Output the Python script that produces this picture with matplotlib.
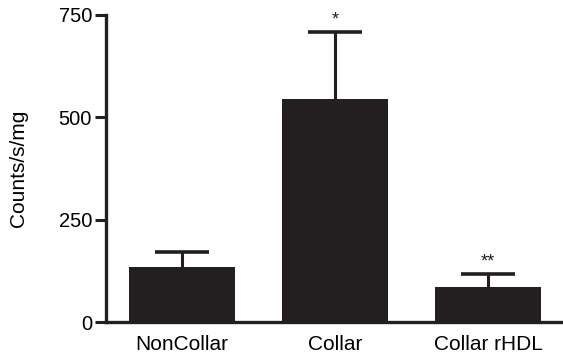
import matplotlib
matplotlib.use("Agg")
import matplotlib.pyplot as plt

categories = ["NonCollar", "Collar", "Collar rHDL"]
means = [135, 544, 86]
errors_upper = [37, 164, 31]
annotations = ["", "*", "**"]
yticks = [0, 250, 500, 750]

plt.rcParams['font.family'] = ['Liberation Sans', 'DejaVu Sans']
col = '#231f20'

fig = plt.figure(figsize=(5.63, 3.57), dpi=100)
ax = fig.add_axes([0.188, 0.098, 0.812, 0.86])
x = list(range(len(categories)))
ax.bar(x, means, width=0.69, color=col, zorder=2)
eb = ax.errorbar(x, means, yerr=[[0]*len(means), errors_upper], fmt='none',
                 ecolor=col, elinewidth=2.2, capsize=19.4, capthick=2.6, zorder=1)
caplines = eb.lines[1]
if len(caplines) >= 2:
    caplines[0].set_visible(False)
for xi, m, e, a in zip(x, means, errors_upper, annotations):
    if a:
        ax.text(xi, m + e + 8, a, ha='center', va='bottom', fontsize=13, color=col)

ax.set_xlim(-0.497, 2.49)
ax.set_ylim(0, 750)
ax.set_yticks(yticks)
ax.set_xticks(x)
ax.set_xticklabels(categories, fontsize=15)
ax.tick_params(axis='x', length=0, pad=9)
ax.tick_params(axis='y', length=8, width=2.2, labelsize=14.5, pad=2, color=col)
for s in ['top', 'right']:
    ax.spines[s].set_visible(False)
for s in ['left', 'bottom']:
    ax.spines[s].set_linewidth(2.4)
    ax.spines[s].set_color(col)
ax.set_ylabel("Counts/s/mg", fontsize=15, labelpad=22)

fig.savefig("out.png", dpi=100)
